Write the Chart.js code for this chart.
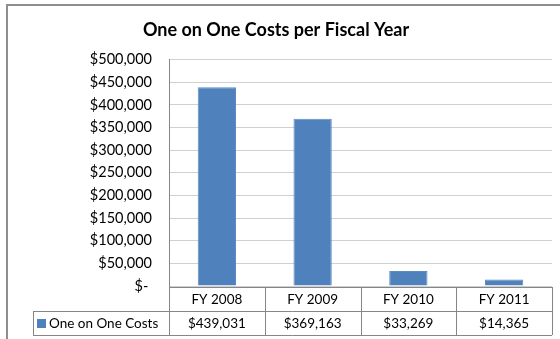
<!DOCTYPE html>
<html>
<head>
<meta charset="utf-8">
<script src="https://cdn.jsdelivr.net/npm/chart.js@4.4.1/dist/chart.umd.min.js"></script>
<style>
  html, body { margin: 0; padding: 0; background: #fff; }
</style>
</head>
<body>
  <canvas id="myChart" width="560" height="339"></canvas>
  <script>
    var title = 'One on One Costs per Fiscal Year'
    var seriesName = 'One on One Costs'
    var categories = ['FY 2008', 'FY 2009', 'FY 2010', 'FY 2011']
    var costs = [439031, 369163, 33269, 14365]
    var yMin = 0
    var yMax = 500000
    var yStep = 50000

    var FONT = 'Lato, "Open Sans", sans-serif'

    function money(v) {
      if (v === 0) return '$- '
      return '$' + v.toLocaleString('en-US')
    }

    // outer frame of the chart object
    var framePlugin = {
      id: 'frame',
      beforeDraw: function(chart) {
        var ctx = chart.ctx
        ctx.save()
        ctx.fillStyle = '#fff'
        ctx.fillRect(0, 0, chart.width, chart.height)
        ctx.strokeStyle = '#8e8e8e'
        ctx.lineWidth = 2
        ctx.strokeRect(7, 5, chart.width + 10, chart.height + 10)
        ctx.restore()
      }
    }

    // data table under the plot, in place of the category axis
    var tablePlugin = {
      id: 'dataTable',
      afterDraw: function(chart) {
        var ctx = chart.ctx
        var area = chart.chartArea
        var x = chart.scales.x
        var colW = (area.right - area.left) / categories.length
        var top = area.bottom + 1
        var mid = top + 24
        var bot = mid + 24
        var legendLeft = 33
        ctx.save()
        ctx.strokeStyle = '#868686'
        ctx.lineWidth = 1
        ctx.beginPath()
        ctx.moveTo(area.left, top + 0.5); ctx.lineTo(area.right, top + 0.5)
        ctx.moveTo(legendLeft, mid + 0.5); ctx.lineTo(area.right, mid + 0.5)
        ctx.moveTo(legendLeft, bot + 0.5); ctx.lineTo(area.right, bot + 0.5)
        ctx.moveTo(legendLeft + 0.5, mid); ctx.lineTo(legendLeft + 0.5, bot)
        for (var i = 0; i <= categories.length; i++) {
          var lx = Math.round(area.left + i * colW) + 0.5
          ctx.moveTo(lx, top); ctx.lineTo(lx, bot)
        }
        ctx.stroke()

        ctx.fillStyle = '#000'
        ctx.font = '13.5px ' + FONT
        ctx.textAlign = 'center'
        ctx.textBaseline = 'middle'
        for (var j = 0; j < categories.length; j++) {
          var cx = x.getPixelForValue(j)
          ctx.fillText(categories[j], cx, (top + mid) / 2 + 1)
          ctx.fillText(money(costs[j]), cx, (mid + bot) / 2 + 1)
        }
        ctx.fillStyle = '#4f81bd'
        ctx.fillRect(legendLeft + 4, (mid + bot) / 2 - 4, 9, 9)
        ctx.fillStyle = '#000'
        ctx.textAlign = 'left'
        ctx.fillText(seriesName, legendLeft + 16, (mid + bot) / 2 + 1)
        ctx.restore()
      }
    }

    var ctx = document.getElementById('myChart').getContext('2d')
    var myChart = new Chart(ctx, {
      type: 'bar',
      data: {
        labels: categories,
        datasets: [{
          label: seriesName,
          data: costs,
          backgroundColor: '#4f81bd',
          borderColor: '#5b8cc6',
          borderWidth: 1,
          categoryPercentage: 1,
          barPercentage: 0.4
        }]
      },
      options: {
        responsive: false,
        animation: false,
        layout: { padding: { left: 0, right: 8, top: 0, bottom: 53 } },
        plugins: {
          legend: { display: false },
          tooltip: { enabled: false },
          title: {
            display: true,
            text: title,
            color: '#000',
            font: { family: FONT, size: 18, weight: 'bold' },
            padding: { top: 19, bottom: 19 }
          }
        },
        scales: {
          x: { display: false },
          y: {
            min: yMin,
            max: yMax,
            afterFit: function(scale) { scale.width = 169 },
            ticks: {
              stepSize: yStep,
              color: '#000',
              padding: 17,
              font: { family: FONT, size: 14.5 },
              callback: function(v) { return money(v) }
            },
            grid: { color: '#d0d0d0', drawTicks: false },
            border: { color: '#868686' }
          }
        }
      },
      plugins: [framePlugin, tablePlugin]
    })
  </script>
</body>
</html>
